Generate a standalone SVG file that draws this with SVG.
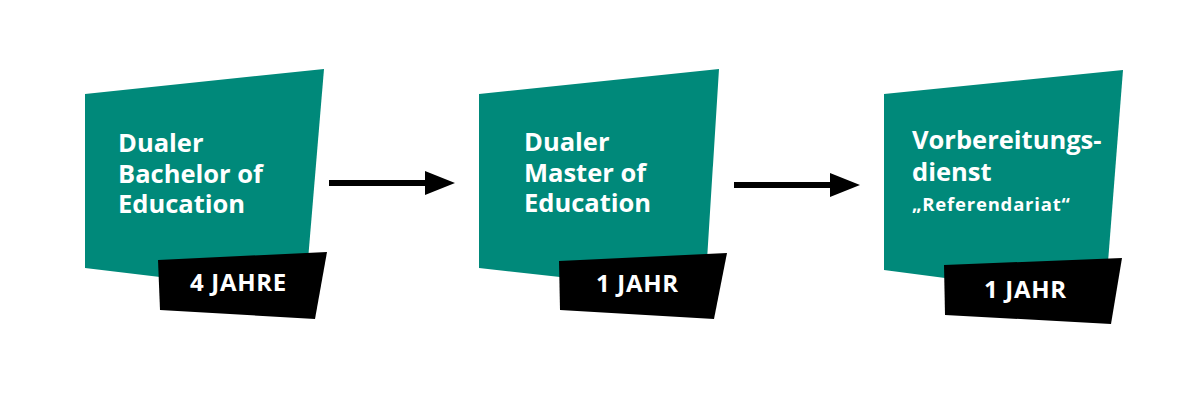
<svg xmlns="http://www.w3.org/2000/svg" width="1196" height="418" viewBox="0 0 1196 418">
<defs>
<style>
.box{fill:#00897a}
.tag{fill:#000}
.t{font-family:"Open Sans","Noto Sans","Liberation Sans",sans-serif;font-weight:700;fill:#fff}
.big{font-size:25.5px}
.small{font-size:18.5px;letter-spacing:0.8px}
.dur{font-size:24px;letter-spacing:0.7px}
.line{stroke:#000;stroke-width:6;fill:none}
</style>
<marker id="ah" markerWidth="6" markerHeight="4" refX="0" refY="2" orient="auto" markerUnits="strokeWidth">
<path d="M0,0 L5,2 L0,4 Z" fill="#000"/>
</marker>
</defs>
<rect width="1196" height="418" fill="#fff"/>
<g id="node1">
<polygon class="box" points="85,94 324,69 308,260 160,277 85,268"/>
<polygon class="tag" points="158,260 327,252 315,319 160,310"/>
<text class="t big" x="118" y="152">Dualer</text>
<text class="t big" x="118" y="183">Bachelor of</text>
<text class="t big" x="118" y="213">Education</text>
<text class="t dur" x="190" y="291">4 JAHRE</text>
</g>
<g id="node2">
<polygon class="box" points="479,94 719,69 707,260 560,277 479,268"/>
<polygon class="tag" points="559,261 727,253 714,319 560,310"/>
<text class="t big" x="524" y="151">Dualer</text>
<text class="t big" x="524" y="182">Master of</text>
<text class="t big" x="524" y="212">Education</text>
<text class="t dur" x="596" y="292">1 JAHR</text>
</g>
<g id="node3">
<polygon class="box" points="884,94 1123,70 1108,262 945,278 884,270"/>
<polygon class="tag" points="944,265 1122,258 1111,324 945,315"/>
<text class="t big" x="912" y="149">Vorbereitungs-</text>
<text class="t big" x="912" y="181">dienst</text>
<text class="t small" x="912" y="211">„Referendariat“</text>
<text class="t dur" x="984" y="298">1 JAHR</text>
</g>
<g id="connectors">
<line class="line" x1="329" y1="183" x2="425" y2="183" marker-end="url(#ah)"/>
<line class="line" x1="734" y1="185" x2="830" y2="185" marker-end="url(#ah)"/>
</g>
</svg>
